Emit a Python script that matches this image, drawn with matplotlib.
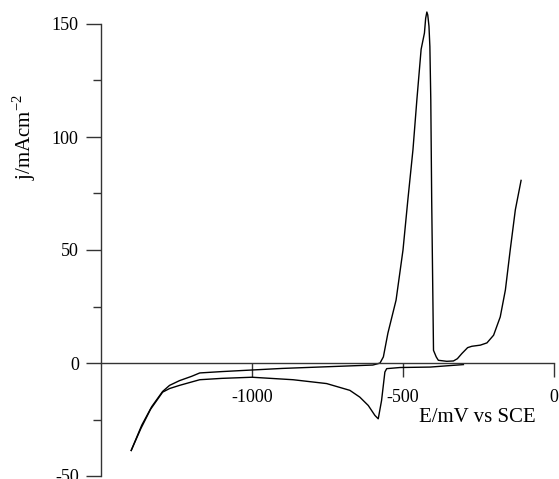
"""
Cyclic voltammogram: current density vs potential (mV vs SCE).
Values read off the reference picture.
"""

import matplotlib
matplotlib.use("Agg")
import matplotlib.pyplot as plt
from matplotlib.ticker import MultipleLocator

plt.rcParams["font.family"] = "Liberation Serif"
plt.rcParams["mathtext.fontset"] = "custom"
plt.rcParams["mathtext.rm"] = "Liberation Serif"
plt.rcParams["axes.unicode_minus"] = False

# forward scan: cathodic tail, anodic peak, passive region, transpassive rise
fwd_E = [-1400, -1365, -1332, -1296, -1273, -1240, -1200, -1173, -1100,
         -1000, -900, -800, -700, -600, -583, -576, -565, -550, -523,
         -500, -484, -467, -454, -440, -429, -425, -421, -418, -414,
         -411, -408, -405, -399, -390, -383, -355, -333, -320, -305,
         -286, -272, -244, -222, -200, -178, -161, -145, -128, -109]
fwd_j = [-38.7, -27.5, -19.3, -12.6, -9.9, -7.8, -5.9, -4.4, -3.8,
         -3.1, -2.4, -1.9, -1.4, -0.9, -0.3, 0.0, 2.7, 13.2, 27.8,
         50.0, 72.1, 94.4, 116.6, 138.8, 146.0, 152.5, 155.3, 154.0, 149.0,
         140.0, 116.6, 72.1, 5.6, 2.7, 1.2, 0.75, 0.9, 1.9, 4.2,
         6.8, 7.4, 7.9, 8.9, 12.3, 20.4, 32.3, 50.0, 67.8, 80.8]

# reverse scan: cathodic tail, reduction peak, short flat segment
rev_E = [-1400, -1368, -1336, -1296, -1273, -1240, -1200, -1173, -1100,
         -1000, -864, -753, -676, -643, -615, -593, -582, -571, -560,
         -554, -510, -410, -300]
rev_j = [-38.7, -29.0, -20.5, -12.9, -11.3, -9.9, -8.4, -7.4, -6.8,
         -6.3, -7.4, -9.1, -12.1, -15.1, -18.8, -23.2, -24.7, -16.6, -4.0,
         -2.5, -2.0, -1.8, -0.7]

x_ticks = [-1000, -500, 0]
y_ticks = [-50, 0, 50, 100, 150]

fig = plt.figure(figsize=(5.59, 4.79), dpi=100)
ax = fig.add_axes([101 / 559, 3 / 479, 453 / 559, 452 / 479])

ax.plot(fwd_E, fwd_j, color="black", linewidth=1.0, clip_on=False)
ax.plot(rev_E, rev_j, color="black", linewidth=1.0, clip_on=False)

ax.set_xlim(-1500, 0)
ax.set_ylim(-50, 150)

for side in ("top", "right"):
    ax.spines[side].set_visible(False)
ax.spines["bottom"].set_position(("data", 0))
for side in ("left", "bottom"):
    ax.spines[side].set_color("#333333")
    ax.spines[side].set_linewidth(1.0)

ax.set_xticks(x_ticks)
ax.set_yticks(y_ticks)
ax.yaxis.set_minor_locator(MultipleLocator(25))
ax.tick_params(axis="x", direction="out", length=10, width=1, pad=9,
               labelsize=13, color="#333333")
ax.tick_params(axis="y", which="major", direction="out", length=11, width=1,
               pad=5, labelsize=13, color="#333333")
ax.tick_params(axis="y", which="minor", direction="out", length=5.5,
               width=1, color="#333333")

ax.set_ylabel(r"j/mAcm$^{\mathrm{-2}}$", fontsize=15)
ax.yaxis.set_label_coords(-0.14, 0.75)
ax.text(0.83, 0.13, "E/mV vs SCE", transform=ax.transAxes,
        ha="center", va="center", fontsize=15)

fig.savefig("out.png", dpi=100)
